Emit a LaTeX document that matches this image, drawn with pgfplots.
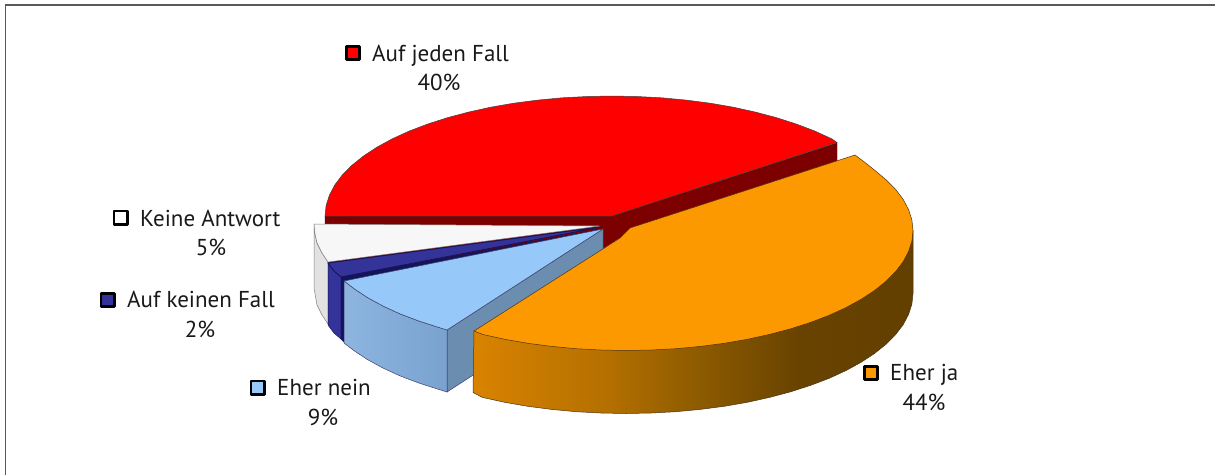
\documentclass[border=0pt]{standalone}
\usepackage{pgfplots}
\pgfplotsset{compat=1.18}
\usepackage{fontspec}
\setmainfont{PT Sans}
\definecolor{cRed}{HTML}{FF0000}
\definecolor{cRedS}{HTML}{7C0000}
\definecolor{cOr}{HTML}{FC9800}
\definecolor{cLB}{HTML}{96C8FA}
\definecolor{cLBi}{HTML}{6A8DB0}
\definecolor{cLBl}{HTML}{8DB5E0}
\definecolor{cLBr}{HTML}{7AA2CF}
\definecolor{cDB}{HTML}{333399}
\definecolor{cNavy}{HTML}{14145C}
\definecolor{cWh}{HTML}{F7F7F7}
\definecolor{cWhS}{HTML}{E2E2E2}
\definecolor{oA}{HTML}{D98300}
\definecolor{oB}{HTML}{B57000}
\definecolor{oC}{HTML}{8F5C00}
\definecolor{oD}{HTML}{684300}
\definecolor{oE}{HTML}{633F00}
\pgfdeclarehorizontalshading{orangeside}{100bp}{
 color(0bp)=(oA); color(25bp)=(oA);
 color(40bp)=(oB);
 color(50bp)=(oC);
 color(62bp)=(oD);
 color(75bp)=(oE);
 color(100bp)=(oE)}
\tikzset{
 lbl/.style={anchor=base west,font=\fontsize{23}{27}\selectfont,text=black!90,inner sep=0pt},
 pct/.style={anchor=base,font=\fontsize{23}{27}\selectfont,text=black!90,inner sep=0pt},
}
\pgfplotsset{
 sw/.style={only marks, mark=square*, mark size=6.7pt, mark options={draw=black,line width=2.6pt,line join=round,fill=#1}},
}
\begin{document}
\begin{tikzpicture}[x=1pt,y=1pt]
\path[use as bounding box] (0,0) rectangle (1215pt,475pt);
\begin{axis}[
 at={(0,0)}, anchor=south west,
 scale only axis, width=1215pt, height=475pt,
 xmin=0, xmax=1215, ymin=0, ymax=475, y dir=reverse,
 hide axis, clip=true,
]
% frame
\addplot[draw=black!65,line width=1.2pt] coordinates {(5.5,475) (5.5,5) (1215,5)};
% red side
\addplot[fill=cRedS,draw=black!50!cRedS,line width=.4pt] coordinates {(325,216) (612,216) (837,143) (837,205) (612,278) (325,278)} --cycle;
% red top
\addplot[fill=cRed,draw=black!50!gray,line width=.5pt] coordinates {(612,216) (325,216) (326.1,205.5) (329.4,195.2) (334.8,184.9) (342.3,175) (351.9,165.3) (363.5,156) (376.9,147.2) (392.1,138.9) (409.1,131.1) (427.5,124.1) (447.4,117.7) (468.5,112.1) (490.7,107.2) (513.8,103.2) (537.7,100.1) (562.2,97.8) (587,96.5) (612,96) (637,96.5) (661.8,97.8) (686.3,100.1) (710.2,103.2) (733.3,107.2) (755.5,112.1) (776.6,117.7) (796.5,124.1) (814.9,131.1) (831.9,138.9) (837,142.5)} --cycle;
% white side
\addplot[fill=cWhS,draw=gray,line width=.5pt] coordinates {(314,224) (315,234) (317,243) (322,253) (328,262) (328,324) (322,315) (317,305) (314,288)} --cycle;
% white top
\addplot[fill=cWh,draw=gray,line width=.5pt] coordinates {(600,226) (314,224) (315,234) (317,243) (322,253) (328,262)} --cycle;
% dark blue side
\addplot[fill=cDB,draw=cNavy,line width=.5pt] coordinates {(328,263) (334,271) (341,277) (341,339) (334,333) (328,325)} --cycle;
% dark blue inner
\addplot[fill=cNavy,draw=cNavy,line width=.5pt] coordinates {(602,229) (345,281) (345,343) (341,339) (341,277)} --cycle;
% dark blue top
\addplot[fill=cDB,draw=cNavy,line width=.8pt] coordinates {(601,227) (328,263) (334,271) (341,277)} --cycle;
% light blue inner
\addplot[fill=cLBi,draw=cNavy!60!gray,line width=.5pt] coordinates {(447,330) (603,229) (603,291) (447,392)} --cycle;
% light blue front
\addplot[left color=cLBl,right color=cLBr,draw=cNavy!60!gray,line width=.5pt] coordinates {(344,281) (354.5,289) (367.9,297.8) (383.1,306.1) (400.1,313.9) (418.5,320.9) (438.4,327.3) (447,330) (447,392) (438.4,389.3) (418.5,382.9) (400.1,375.9) (383.1,368.1) (367.9,359.8) (354.5,351) (344,343)} --cycle;
% light blue top
\addplot[fill=cLB,draw=cNavy!60!gray,line width=.5pt] coordinates {(603,229) (344,281) (354.5,289) (367.9,297.8) (383.1,306.1) (400.1,313.9) (418.5,320.9) (438.4,327.3) (447,330)} --cycle;
% orange side
\addplot[shading=orangeside,draw=black!60!brown,line width=.5pt] coordinates {(913,230.5) (474,331) (473,392.5) (482.5,397.4) (504.7,402.3) (527.8,406.3) (551.7,409.4) (576.2,411.7) (601,413) (626,413.5) (651,413) (675.8,411.7) (700.3,409.4) (724.2,406.3) (747.3,402.3) (769.5,397.4) (790.6,391.8) (810.5,385.4) (828.9,378.4) (845.9,370.6) (861.1,362.3) (874.5,353.5) (886.1,344.2) (895.7,334.5) (903.2,324.6) (908.6,314.3) (911.9,304) (913,293.5)} --cycle;
% orange top
\addplot[fill=cOr,draw=black!60!brown,line width=.5pt] coordinates {(855,155) (865,162.5) (875,170.5) (886.1,179.8) (895.7,189.5) (903.2,199.4) (908.6,209.7) (911.9,220) (913,230.5) (911.9,241) (908.6,251.3) (903.2,261.6) (895.7,271.5) (886.1,281.2) (874.5,290.5) (861.1,299.3) (845.9,307.6) (828.9,315.4) (810.5,322.4) (790.6,328.8) (769.5,334.4) (747.3,339.3) (724.2,343.3) (700.3,346.4) (675.8,348.7) (651,350) (626,350.5) (601,350) (576.2,348.7) (551.7,346.4) (527.8,343.3) (504.7,339.3) (482.5,334.4) (474,331) (620,238) (630,228)} --cycle;
% legend swatches
\addplot[sw=cRed] coordinates {(353,53)};
\addplot[sw=white] coordinates {(120.5,217.5)};
\addplot[sw=cDB] coordinates {(107.5,300)};
\addplot[sw=cLB] coordinates {(257.5,387.5)};
\addplot[sw=cOr] coordinates {(871,373)};
% labels
\node[lbl] at (axis cs:372,61) {Auf jeden Fall};
\node[pct] at (axis cs:439,90) {40\%};
\node[lbl] at (axis cs:140,226) {Keine Antwort};
\node[pct] at (axis cs:211,255) {5\%};
\node[lbl] at (axis cs:127,307) {Auf keinen Fall};
\node[pct] at (axis cs:200,337) {2\%};
\node[lbl] at (axis cs:277,395) {Eher nein};
\node[pct] at (axis cs:323,425) {9\%};
\node[lbl] at (axis cs:890,380) {Eher ja};
\node[pct] at (axis cs:924,410) {44\%};
\end{axis}
\end{tikzpicture}
\end{document}
